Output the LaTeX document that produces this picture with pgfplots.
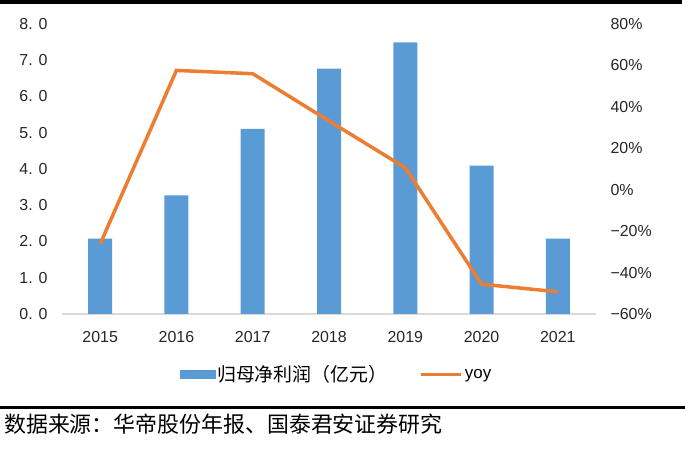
\documentclass[border=0pt]{standalone}
\usepackage{pgfplots}
\pgfplotsset{compat=1.18}
\usepackage{fontspec}
\setmainfont{Liberation Sans}
\newfontfamily\cjk{Noto Sans CJK SC}
\definecolor{barblue}{HTML}{5B9BD5}
\definecolor{lineorange}{HTML}{ED7D31}
\begin{document}
\begin{tikzpicture}
\useasboundingbox (0bp,0bp) rectangle (685bp,451bp);
\fill[black] (0bp,446.5bp) rectangle (682bp,451bp);
\fill[black] (0bp,41.5bp) rectangle (685bp,44.5bp);
\node[anchor=west, font=\cjk\fontsize{22}{24}\selectfont, inner sep=0pt] at (4bp,27bp) {数据来源：华帝股份年报、国泰君安证券研究};
\begin{axis}[
  at={(62bp,137bp)}, anchor=south west,
  scale only axis, width=534bp, height=290bp,
  xmin=-0.5, xmax=6.5, ymin=0, ymax=8,
  axis x line*=bottom, axis y line*=left,
  x axis line style={draw=black!15, line width=1.2bp, -},
  y axis line style={draw=none},
  major tick length=0pt,
  xtick={0,...,6}, xticklabels={2015,2016,2017,2018,2019,2020,2021},
  ytick={0,1,...,8}, yticklabels={0. 0,1. 0,2. 0,3. 0,4. 0,5. 0,6. 0,7. 0,8. 0},
  tick label style={font=\fontsize{16}{18}\selectfont, text=black!85},
  yticklabel style={xshift=-11bp},
  xticklabel style={yshift=-14bp},
  ybar, bar width=24bp,
]
\addplot[fill=barblue, draw=none] coordinates {(0,2.08) (1,3.27) (2,5.11) (3,6.77) (4,7.49) (5,4.09) (6,2.08)};
\end{axis}
\begin{axis}[
  at={(62bp,137bp)}, anchor=south west,
  scale only axis, width=534bp, height=290bp,
  xmin=-0.5, xmax=6.5, ymin=-60, ymax=80,
  axis x line=none, axis y line*=right,
  y axis line style={draw=none},
  major tick length=0pt,
  ytick={-60,-40,...,80}, yticklabels={−60\%,−40\%,−20\%,0\%,20\%,40\%,60\%,80\%},
  tick label style={font=\fontsize{16}{18}\selectfont, text=black!85},
  yticklabel style={xshift=11bp},
  legend columns=2,
  legend cell align=left,
  legend style={at={(0.514,-0.208)}, anchor=center, draw=none, fill=none,
    font=\fontsize{17}{19}\selectfont,
    /tikz/every even column/.append style={column sep=30bp}},
]
\addlegendimage{legend image code/.code={\fill[barblue] (0bp,-4.25bp) rectangle (35bp,4.25bp);}}
\addlegendentry{\cjk\fontsize{19}{21}\selectfont 归母净利润（亿元）}
\addplot[lineorange, line width=3.5bp, mark=none,
  legend image code/.code={\draw[lineorange, line width=3.5bp] (0bp,0bp) -- (40bp,0bp);}]
  coordinates {(0,-26.2) (1,57.6) (2,56) (3,33.2) (4,10.6) (5,-45.6) (6,-49.3)};
\addlegendentry{yoy}
\end{axis}
\end{tikzpicture}
\end{document}
